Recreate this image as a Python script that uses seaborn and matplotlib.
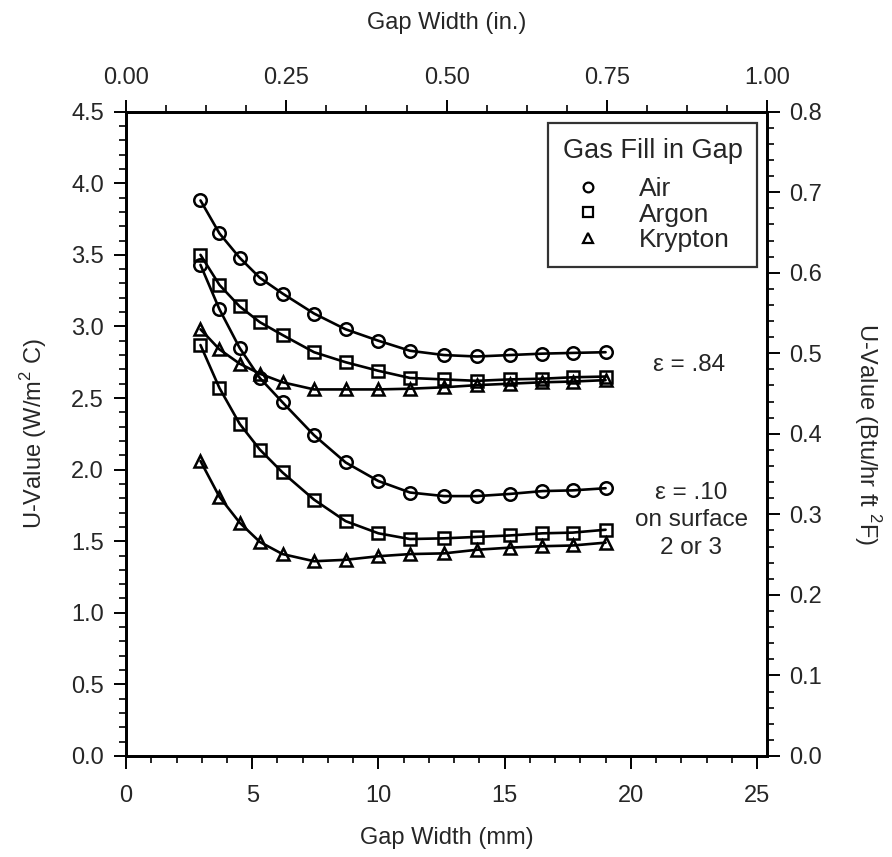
#!/usr/bin/env python3

import pandas as pd
import seaborn as sns
import matplotlib.pyplot as plt
from matplotlib.lines import Line2D
from matplotlib.ticker import MultipleLocator, FormatStrFormatter

# gap widths (mm)
gap_mm = [2.95, 3.7, 4.5, 5.3, 6.2, 7.45, 8.7, 10.0, 11.25, 12.6, 13.9, 15.2, 16.5, 17.7, 19.0]

# U-values (W/m2 C), emissivity .84
air_84 = [3.88, 3.65, 3.48, 3.34, 3.23, 3.09, 2.98, 2.90, 2.83, 2.80, 2.79, 2.80, 2.81, 2.815, 2.82]
argon_84 = [3.50, 3.29, 3.14, 3.03, 2.94, 2.82, 2.75, 2.69, 2.64, 2.63, 2.62, 2.63, 2.635, 2.645, 2.65]
krypton_84 = [2.98, 2.84, 2.74, 2.67, 2.61, 2.56, 2.56, 2.56, 2.565, 2.575, 2.59, 2.60, 2.61, 2.615, 2.625]

# U-values (W/m2 C), emissivity .10
air_10 = [3.43, 3.12, 2.85, 2.64, 2.47, 2.24, 2.05, 1.92, 1.84, 1.815, 1.815, 1.83, 1.85, 1.855, 1.87]
argon_10 = [2.87, 2.57, 2.32, 2.14, 1.98, 1.79, 1.64, 1.555, 1.515, 1.52, 1.53, 1.54, 1.555, 1.56, 1.58]
krypton_10 = [2.06, 1.81, 1.63, 1.495, 1.41, 1.36, 1.37, 1.395, 1.41, 1.415, 1.44, 1.455, 1.465, 1.47, 1.49]

series = {
    ('Air', '.84'): air_84, ('Argon', '.84'): argon_84, ('Krypton', '.84'): krypton_84,
    ('Air', '.10'): air_10, ('Argon', '.10'): argon_10, ('Krypton', '.10'): krypton_10,
}

frames = []
for (gas, eps), vals in series.items():
    frames.append(pd.DataFrame({'gap': gap_mm, 'u': vals, 'gas': gas, 'eps': eps}))
df = pd.concat(frames, ignore_index=True)

sns.set_style('ticks')
plt.rcParams['font.family'] = ['Liberation Sans', 'DejaVu Sans']
plt.rcParams['mathtext.fontset'] = 'custom'
plt.rcParams['mathtext.rm'] = 'Liberation Sans'
fs = 17

fig = plt.figure(figsize=(8.92, 8.57), dpi=100)
ax = fig.add_axes([0.1413, 0.1179, 0.7187, 0.7518])

markers = {'Air': 'o', 'Argon': 's', 'Krypton': '^'}
sns.lineplot(data=df, x='gap', y='u', style='gas', units='eps', estimator=None,
             markers=markers, dashes=False, color='black', linewidth=1.9,
             markersize=9, markerfacecolor='none', markeredgecolor='black',
             markeredgewidth=1.8, legend=False, ax=ax)

ax.set_xlim(0, 25.4)
ax.set_ylim(0, 4.5)
ax.xaxis.set_major_locator(MultipleLocator(5))
ax.xaxis.set_minor_locator(MultipleLocator(1))
ax.yaxis.set_major_locator(MultipleLocator(0.5))
ax.yaxis.set_minor_locator(MultipleLocator(0.1))
ax.yaxis.set_major_formatter(FormatStrFormatter('%.1f'))
ax.set_xlabel('Gap Width (mm)', fontsize=fs, labelpad=14)
ax.set_ylabel('U-Value (W/m$^2$ C)', fontsize=fs, labelpad=16)

ax2 = ax.twinx()
ax2.set_ylim(0, 0.8)
ax2.yaxis.set_major_locator(MultipleLocator(0.1))
ax2.yaxis.set_minor_locator(MultipleLocator(0.02))
ax2.yaxis.set_major_formatter(FormatStrFormatter('%.1f'))
ax2.set_ylabel('U-Value (Btu/hr ft $^2$F)', fontsize=fs, rotation=270, labelpad=44)

ax3 = ax.twiny()
ax3.set_xlim(0, 1.0)
ax3.xaxis.set_major_locator(MultipleLocator(0.25))
ax3.xaxis.set_minor_locator(MultipleLocator(0.0625))
ax3.xaxis.set_major_formatter(FormatStrFormatter('%.2f'))
ax3.set_xlabel('Gap Width (in.)', fontsize=fs, labelpad=28)

for a in (ax, ax2, ax3):
    a.tick_params(which='major', direction='out', length=9, width=1.4, labelsize=fs, color='black', pad=7)
    a.tick_params(which='minor', direction='out', length=5, width=1.2, color='black')
    for s in a.spines.values():
        s.set_linewidth(1.8)
        s.set_color('black')
ax.tick_params(axis='x', which='major', pad=12)

handles = [Line2D([], [], linestyle='none', marker=markers[g], markersize=7,
                  markerfacecolor='none', markeredgecolor='black', markeredgewidth=1.6)
           for g in ['Air', 'Argon', 'Krypton']]
leg = ax.legend(handles, ['Air', 'Argon', 'Krypton'], title='Gas Fill in Gap',
                loc='upper right', bbox_to_anchor=(757 / 892, 1 - 123 / 857),
                bbox_transform=fig.transFigure, fontsize=19,
                title_fontsize=19.5, frameon=True, fancybox=False, edgecolor='black',
                labelspacing=0.05, handletextpad=1.0, handlelength=1.9, borderpad=0.55,
                borderaxespad=0)
leg.get_frame().set_linewidth(1.6)
leg._legend_box.align = 'left'
leg._legend_box.sep = 10

ax.text(22.3, 2.73, 'ε = .84', fontsize=17.5, ha='center', va='center')
ax.text(22.4, 1.647, 'ε = .10\non surface\n2 or 3', fontsize=17.5, ha='center', va='center',
        linespacing=1.33)

fig.savefig('out.png', dpi=100)
